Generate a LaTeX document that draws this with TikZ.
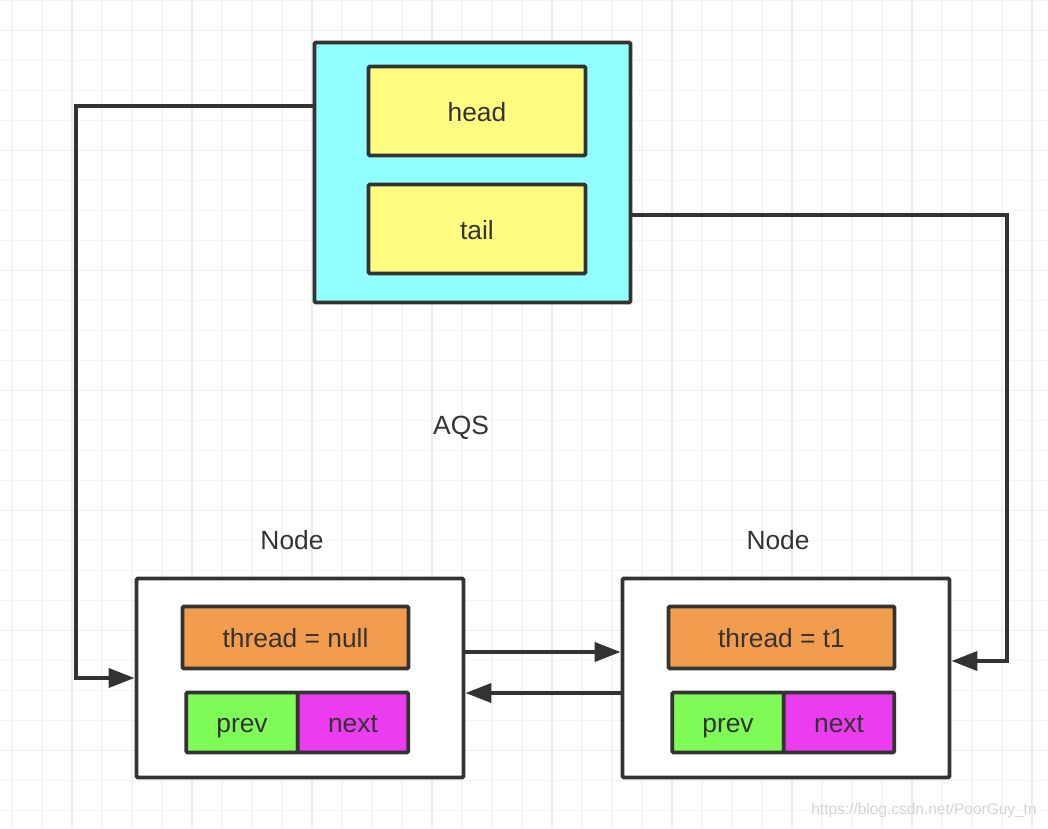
\documentclass[tikz,border=0pt]{standalone}
\usepackage{fontspec}
\setmainfont{Liberation Sans}
\usepackage{tikz}
\usetikzlibrary{arrows.meta, calc}

\definecolor{AqsCyan}{HTML}{92FFFF}
\definecolor{FieldYellow}{HTML}{FFFC80}
\definecolor{ThreadOrange}{HTML}{F19D4D}
\definecolor{PrevGreen}{HTML}{7FFB58}
\definecolor{NextMagenta}{HTML}{EB3CEF}
\definecolor{LineDark}{HTML}{333333}
\definecolor{GridMinor}{HTML}{F4F4F4}
\definecolor{GridMajor}{HTML}{ECECEC}

\begin{document}
\begin{tikzpicture}[
  box/.style={draw=LineDark, line width=2.2pt, rounded corners=0.8pt, inner sep=0pt, text=LineDark, text height=12.7pt, text depth=1.3pt, font=\fontsize{15}{18}\selectfont},
  link/.style={draw=LineDark, line width=2.2pt, -{Triangle[length=5.2mm, width=3.8mm]}},
  title/.style={text=LineDark, font=\fontsize{15}{18}\selectfont},
  watermark/.style={text=black!17, font=\fontsize{8.8}{10}\selectfont}
]
\pgfmathsetmacro{\W}{20.96}
\pgfmathsetmacro{\H}{16.56}
\useasboundingbox (0,0) rectangle (\W,\H);
\fill [white] (0,0) rectangle (\W,\H);

% grid
\begin{scope}
\clip (0,0) rectangle (\W,\H);
\foreach \k in {0,...,34}
\draw [GridMinor, line width=1.1pt] (0.234+0.6*\k, 0) -- ++(0,\H);
\foreach \k in {0,...,27}
\draw [GridMinor, line width=1.1pt] (0, \H-0.01-0.6*\k) -- ++(\W,0);
\foreach \k in {0,...,8}
\draw [GridMajor, line width=1.1pt] (1.434+2.4*\k, 0) -- ++(0,\H);
\foreach \k in {0,...,6}
\draw [GridMajor, line width=1.1pt] (0, \H-0.61-2.4*\k) -- ++(\W,0);
\end{scope}

% AQS
\node [box, fill=AqsCyan, minimum width=6.32cm, minimum height=5.2cm] (aqs) at (9.45,13.11) {};
\node [box, fill=FieldYellow, minimum width=4.34cm, minimum height=1.78cm] (head) at (9.54,14.34) {head};
\node [box, fill=FieldYellow, minimum width=4.34cm, minimum height=1.78cm] (tail) at (9.54,11.98) {tail};
\node [title] (aqslabel) at (9.22,8.0) {AQS};

% queue nodes
\foreach \i/\dx/\who in {1/0/null, 2/9.72/t1}
{
\node [title] (nodelabel\i) at (5.84+\dx,5.76) {Node};
\node [box, fill=white, minimum width=6.54cm, minimum height=3.98cm] (node\i) at (6.0+\dx,3.0) {};
\node [box, fill=ThreadOrange, minimum width=4.52cm, minimum height=1.24cm] (thread\i) at (5.91+\dx,3.81) {thread = \who};
\node [box, fill=PrevGreen, minimum width=2.23cm, minimum height=1.2cm] (prev\i) at (4.84+\dx,2.11) {prev};
\node [box, fill=NextMagenta, minimum width=2.21cm, minimum height=1.2cm] (next\i) at (7.06+\dx,2.11) {next};
}

% links
\coordinate (leftbend) at (1.52,14.44);
\coordinate (rightbend) at (20.14,12.26);
\coordinate (rightin) at (20.14,3.34);
\coordinate (fwd) at (0,3.52);
\coordinate (back) at (0,2.70);

\draw [link] (aqs.west |- leftbend) -- (leftbend) |- (node1.west);
\draw [link] (aqs.east |- rightbend) -- (rightbend) -- (rightin) -- (node2.east |- rightin);
\draw [link] (node1.east |- fwd) -- (node2.west |- fwd);
\draw [link] (node2.west |- back) -- (node1.east |- back);

\node [watermark] (mark) at (18.48,0.36) {https://blog.csdn.net/PoorGuy\_tn};
\end{tikzpicture}
\end{document}
